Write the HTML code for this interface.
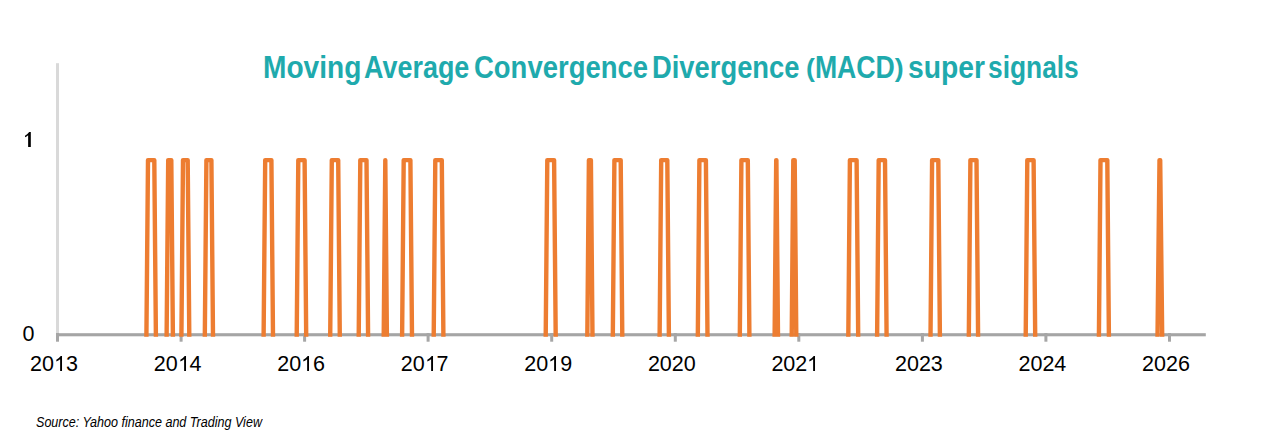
<!DOCTYPE html>
<html><head><meta charset="utf-8"><style>
html,body{margin:0;padding:0;background:#fff;}
body{width:1280px;height:439px;position:relative;overflow:hidden;font-family:"Liberation Sans",sans-serif;}
.pp{font-style:normal;display:inline-block;transform:translateY(0.3px) scaleY(0.84);}
.tw{position:absolute;top:49.8px;font-weight:bold;font-size:30.5px;color:#1faaad;white-space:nowrap;transform-origin:0 0;}
.yl{position:absolute;font-size:21.5px;color:#000;width:30px;text-align:center;}
.xl{position:absolute;top:351.5px;width:80px;text-align:center;font-size:21.5px;color:#000;}
.src{position:absolute;left:36px;top:414px;font-style:italic;font-size:14px;color:#000;white-space:nowrap;transform:scaleX(0.897);transform-origin:0 0;}
svg.main{position:absolute;left:0;top:0;}
.one{display:inline-block;width:0.556em;height:0.693em;position:relative;vertical-align:-0.025em;}
.one svg{position:absolute;left:0;top:0;display:block;}
</style></head><body>
<svg class="main" width="1280" height="439" viewBox="0 0 1280 439">
<rect x="56" y="63.2" width="3" height="272" fill="#d9d9d9"/>
<rect x="56" y="333.2" width="1149.8" height="3.1" fill="#a5a5a5"/>
<rect x="56.0" y="333" width="3" height="8.7" fill="#a6a6a6"/><rect x="179.6" y="333" width="3" height="8.7" fill="#a6a6a6"/><rect x="303.1" y="333" width="3" height="8.7" fill="#a6a6a6"/><rect x="426.6" y="333" width="3" height="8.7" fill="#a6a6a6"/><rect x="550.2" y="333" width="3" height="8.7" fill="#a6a6a6"/><rect x="673.8" y="333" width="3" height="8.7" fill="#a6a6a6"/><rect x="797.3" y="333" width="3" height="8.7" fill="#a6a6a6"/><rect x="920.9" y="333" width="3" height="8.7" fill="#a6a6a6"/><rect x="1044.4" y="333" width="3" height="8.7" fill="#a6a6a6"/><rect x="1168.0" y="333" width="3" height="8.7" fill="#a6a6a6"/>
<path d="M146.4,336.7 L148.0,160.1 L154.3,160.1 L155.9,336.7 M166.6,336.7 L168.2,160.1 L171.3,160.1 L172.9,336.7 M181.4,336.7 L183.0,160.1 L187.7,160.1 L189.3,336.7 M204.8,336.7 L206.4,160.1 L211.4,160.1 L213.0,336.7 M263.6,336.7 L265.2,160.1 L271.4,160.1 L273.0,336.7 M296.7,336.7 L298.3,160.1 L304.6,160.1 L306.2,336.7 M330.2,336.7 L331.8,160.1 L338.2,160.1 L339.8,336.7 M358.7,336.7 L360.3,160.1 L366.5,160.1 L368.1,336.7 M383.7,336.7 L385.3,160.1 L385.3,160.1 L386.9,336.7 M402.1,336.7 L403.7,160.1 L410.4,160.1 L412.0,336.7 M433.7,336.7 L435.3,160.1 L441.8,160.1 L443.4,336.7 M545.7,336.7 L547.3,160.1 L554.1,160.1 L555.7,336.7 M587.3,336.7 L588.9,160.1 L590.9,160.1 L592.5,336.7 M612.8,336.7 L614.4,160.1 L620.7,160.1 L622.3,336.7 M659.6,336.7 L661.2,160.1 L667.3,160.1 L668.9,336.7 M697.8,336.7 L699.4,160.1 L705.9,160.1 L707.5,336.7 M739.8,336.7 L741.4,160.1 L747.8,160.1 L749.4,336.7 M774.6,336.7 L776.2,160.1 L776.4,160.1 L778.0,336.7 M791.7,336.7 L793.3,160.1 L794.7,160.1 L796.3,336.7 M848.3,336.7 L849.9,160.1 L856.6,160.1 L858.2,336.7 M877.1,336.7 L878.7,160.1 L885.0,160.1 L886.6,336.7 M930.5,336.7 L932.1,160.1 L938.3,160.1 L939.9,336.7 M968.8,336.7 L970.4,160.1 L976.5,160.1 L978.1,336.7 M1025.7,336.7 L1027.3,160.1 L1033.6,160.1 L1035.2,336.7 M1098.9,336.7 L1100.5,160.1 L1107.3,160.1 L1108.9,336.7 M1157.5,336.7 L1159.5,160.1 L1160.2,160.1 L1162.2,336.7" fill="none" stroke="#ed7d31" stroke-width="4.4" stroke-linejoin="round" stroke-linecap="butt"/>
</svg>
<span class="tw" style="left:262.86px;transform:scaleX(0.9221)">Moving</span><span class="tw" style="left:363.69px;transform:scaleX(0.8833)">Average</span><span class="tw" style="left:473.83px;transform:scaleX(0.9005)">Convergence</span><span class="tw" style="left:652.21px;transform:scaleX(0.8968)">Divergence</span><span class="tw" style="left:805.59px;transform:scaleX(0.8740)"><i class="pp">(</i>MACD<i class="pp">)</i></span><span class="tw" style="left:907.73px;transform:scaleX(0.9282)">super</span><span class="tw" style="left:988.45px;transform:scaleX(0.8637)">signals</span>
<div class="yl" style="left:13.3px;top:127.8px"><span class="one"><svg viewBox="0 0 556 716" width="100%" height="100%" preserveAspectRatio="none"><path d="M410,716 L285,716 L285,156 Q215,218 140,255 L140,176 Q250,122 333,0 L410,0 Z" fill="#000"/></svg></span></div>
<div class="yl" style="left:13.6px;top:322.4px">0</div>
<div class="xl" style="left:14.0px">20<span class="one"><svg viewBox="0 0 556 716" width="100%" height="100%" preserveAspectRatio="none"><path d="M373,716 L285,716 L285,156 Q205,223 109,261 L109,176 Q230,122 313,0 L373,0 Z" fill="#000"/></svg></span>3</div><div class="xl" style="left:137.6px">20<span class="one"><svg viewBox="0 0 556 716" width="100%" height="100%" preserveAspectRatio="none"><path d="M373,716 L285,716 L285,156 Q205,223 109,261 L109,176 Q230,122 313,0 L373,0 Z" fill="#000"/></svg></span>4</div><div class="xl" style="left:261.1px">20<span class="one"><svg viewBox="0 0 556 716" width="100%" height="100%" preserveAspectRatio="none"><path d="M373,716 L285,716 L285,156 Q205,223 109,261 L109,176 Q230,122 313,0 L373,0 Z" fill="#000"/></svg></span>6</div><div class="xl" style="left:384.6px">20<span class="one"><svg viewBox="0 0 556 716" width="100%" height="100%" preserveAspectRatio="none"><path d="M373,716 L285,716 L285,156 Q205,223 109,261 L109,176 Q230,122 313,0 L373,0 Z" fill="#000"/></svg></span>7</div><div class="xl" style="left:508.2px">20<span class="one"><svg viewBox="0 0 556 716" width="100%" height="100%" preserveAspectRatio="none"><path d="M373,716 L285,716 L285,156 Q205,223 109,261 L109,176 Q230,122 313,0 L373,0 Z" fill="#000"/></svg></span>9</div><div class="xl" style="left:631.8px">2020</div><div class="xl" style="left:755.3px">202<span class="one"><svg viewBox="0 0 556 716" width="100%" height="100%" preserveAspectRatio="none"><path d="M373,716 L285,716 L285,156 Q205,223 109,261 L109,176 Q230,122 313,0 L373,0 Z" fill="#000"/></svg></span></div><div class="xl" style="left:878.9px">2023</div><div class="xl" style="left:1002.4px">2024</div><div class="xl" style="left:1126.0px">2026</div>
<div class="src">Source: Yahoo finance and Trading View</div>
</body></html>
